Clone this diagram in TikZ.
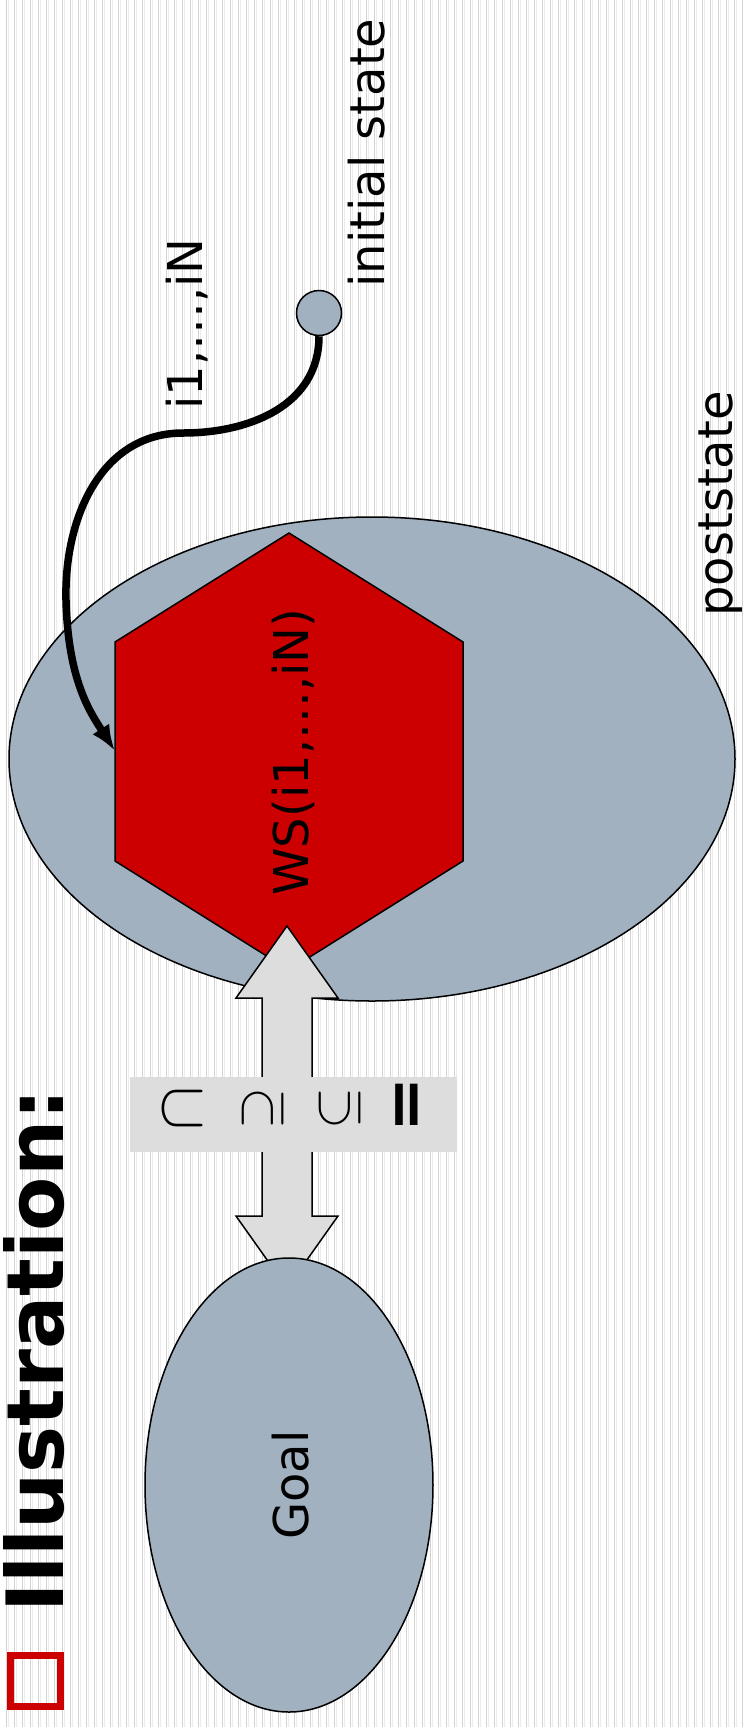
\documentclass[tikz,border=0pt]{standalone}
\usepackage{fontspec}
\setmainfont{DejaVu Sans}
\usepackage{tikz}
\usetikzlibrary{arrows.meta,shapes.geometric}
\definecolor{slate}{HTML}{A2B1C0}
\definecolor{wsred}{HTML}{CC0000}
\definecolor{relgray}{HTML}{DDDDDD}
\tikzset{
	blob/.style={ellipse, draw=black, fill=slate, line width=1.5pt, inner sep=0pt},
	lbl/.style={rotate=90, anchor=base, inner sep=0pt, font=\fontsize{48}{57}\selectfont},
	rel/.style={rotate=90, anchor=center, inner sep=0pt, font=\fontsize{10}{12}\selectfont},
	flow/.style={line width=7.5pt, -{Latex[length=26pt,width=20pt]}},
	stripe/.style={line width=1.4pt, gray!35},
	stripelight/.style={line width=1pt, gray!15}
}

\begin{document}
\begin{tikzpicture}[x=1pt, y=-1pt]
		\fill[white] (0,0) rectangle (743,1727);
		\useasboundingbox (0,0) rectangle (743,1727);
		\foreach \i in {0,...,92}{
			\draw[stripe] (6.5+8*\i,0) -- ++(0,1727);
			\draw[stripelight] (8.5+8*\i,0) -- ++(0,1727);
		}
		% poststate and the solution
		\node[blob, minimum width=726pt, minimum height=484pt] (post) at (372,759) {};
		\filldraw[fill=wsred, draw=black, line width=1.5pt]
		(289,533) -- (463,642) -- (463,861) -- (289,970) -- (115,861) -- (115,642) -- cycle;
		\coordinate (hexW) at (115,751);
		\node[lbl] (ws) at (308,752) {WS(i1,…,iN)};
		% relation arrow
		\filldraw[fill=relgray, draw=black, line width=1.5pt]
		(287,926) -- (338,998) -- (312,998) -- (312,1216) -- (338,1216) -- (287,1288)
		-- (236,1216) -- (262,1216) -- (262,998) -- (236,998) -- cycle;
		\fill[relgray] (130,1077) rectangle (457,1152);
		\node[rel] (cap) at (183,1108) {\scalebox{6.6}{$\cap$}};
		\node[rel] (supeq) at (263,1108) {\scalebox{5.4}{$\supseteq$}};
		\node[rel] (subeq) at (340,1108) {\scalebox{5.4}{$\subseteq$}};
		\node[rel, font=\fontsize{66}{76}\selectfont\bfseries] (eq) at (412,1105) {=};
		\node[blob, minimum width=288pt, minimum height=454pt] (goal) at (289,1485) {};
		\node[lbl] (goaltext) at (308,1485) {Goal};
		% initial state
		\node[circle, draw=black, fill=slate, line width=1.5pt, minimum size=45pt, inner sep=0pt] (init) at (319,313) {};
		\draw[flow] (init.south) .. controls (319,405) and (250,433) .. (183,433)
		.. controls (100,433) and (64,520) .. (66,600)
		.. controls (68,680) and (90,712) .. (hexW);
		\node[lbl] (initlbl) at (384,153) {initial state};
		\node[lbl] (seq) at (202,324) {i1,…,iN};
		\node[lbl] (postlbl) at (732,504) {poststate};
		% title
		\draw[wsred, line width=7pt] (10.5,1655.5) rectangle (60.5,1706.5);
		\node[lbl, font=\fontsize{79}{90}\selectfont\bfseries] (title) at (63,1351) {Illustration:};
	\end{tikzpicture}
\end{document}
